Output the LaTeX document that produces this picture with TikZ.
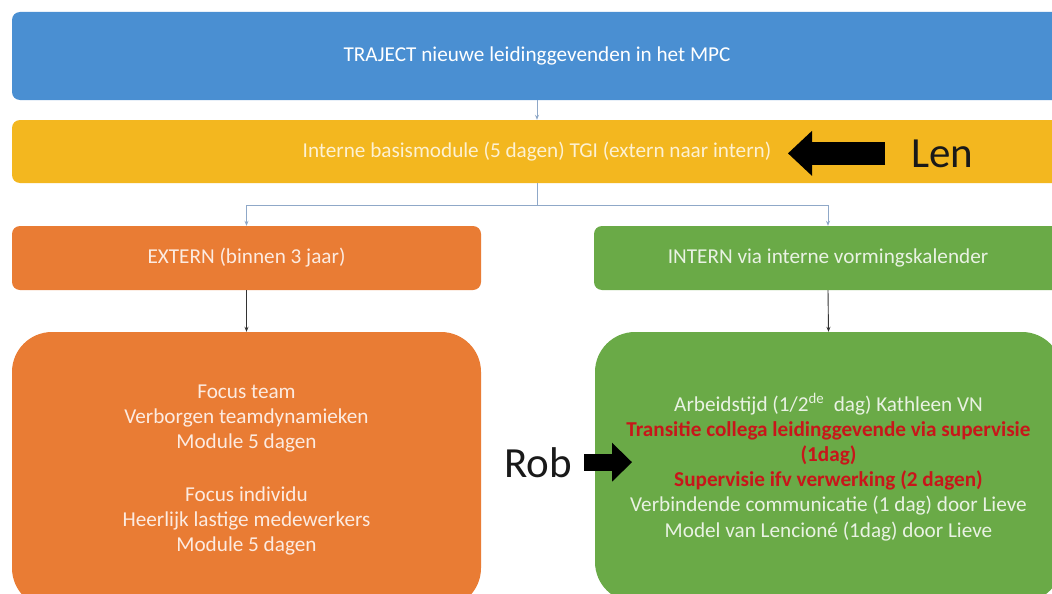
\documentclass[tikz,border=0pt]{standalone}
\usepackage{fontspec}
\setmainfont{Carlito}
\usetikzlibrary{arrows.meta}
\definecolor{traject-blue}{HTML}{4A8FD2}
\definecolor{basis-gold}{HTML}{F3B71F}
\definecolor{extern-orange}{HTML}{E97C34}
\definecolor{intern-green}{HTML}{6AAA47}
\definecolor{link-blue}{HTML}{8FA8C8}
\definecolor{link-dark}{HTML}{333333}
\definecolor{alert-red}{HTML}{C8161A}

\begin{document}
\begin{tikzpicture}[x=1pt, y=-1pt,
      every node/.style={font=\fontsize{21.2}{25.2}\selectfont},
      box/.style={rounded corners=8pt, inner sep=0pt, align=center},
      bigbox/.style={rounded corners=40pt, inner sep=0pt, align=center},
      thinlink/.style={draw=link-blue, line width=0.9pt, -{Stealth[length=5pt,width=4pt]}},
      darklink/.style={draw=link-dark, line width=0.9pt, -{Stealth[length=5pt,width=4pt]}},
      speaker/.style={font=\fontsize{43}{50}\selectfont, text=black!90, inner sep=0pt}]
    \useasboundingbox (0,0) rectangle (1052,594);
    \clip (0,0) rectangle (1052,594);
    \fill[white] (0,0) rectangle (1052,594);

    \node[box, fill=traject-blue, text=white,
          minimum width=1050pt, minimum height=88pt]
          (traject) at (537,56) {TRAJECT nieuwe leidinggevenden in het MPC};
    \node[box, fill=basis-gold, text=white!80!basis-gold,
          minimum width=1050pt, minimum height=63pt]
          (basis) at (537,151.5) {Interne basismodule (5 dagen) TGI (extern naar intern)};
    \node[box, fill=extern-orange, text=white!85!extern-orange,
          minimum width=469pt, minimum height=64pt]
          (extern) at (246.5,258) {EXTERN (binnen 3 jaar)};
    \node[box, fill=intern-green, text=white!85!intern-green,
          minimum width=468pt, minimum height=64pt]
          (intern) at (828,258) {INTERN via interne vormingskalender};
    \node[bigbox, fill=extern-orange, text=white!85!extern-orange,
          minimum width=469pt, minimum height=276pt]
          (externbody) at (246.5,470) {Focus team\\Verborgen teamdynamieken\\Module 5 dagen\\[27pt]
            Focus individu\\Heerlijk lastige medewerkers\\Module 5 dagen};
    \node[bigbox, fill=intern-green, text=white!85!intern-green,
          minimum width=467pt, minimum height=270pt]
          (internbody) at (828.5,467) {Arbeidstijd (1/2\textsuperscript{de}\ \ dag) Kathleen VN\\
            \textcolor{alert-red}{\textbf{Transitie collega leidinggevende via supervisie}}\\
            \textcolor{alert-red}{\textbf{(1dag)}}\\
            \textcolor{alert-red}{\textbf{Supervisie ifv verwerking (2 dagen)}}\\
            Verbindende communicatie (1 dag) door Lieve\\
            Model van Lencioné (1dag) door Lieve};

    \node[speaker, anchor=base west] (len) at (911,167) {Len};
    \node[speaker, anchor=base west] (rob) at (504,477) {Rob};
    \coordinate (lentip) at (len.west -| 788,0);
    \coordinate (robtip) at (rob.east -| 632,0);

    \draw[thinlink] (traject.south) -- (basis.north);
    \draw[thinlink] (basis.south) -- ++(0,22) -| (extern.north);
    \draw[thinlink] (basis.south) -- ++(0,22) -| (intern.north);
    \draw[darklink] (extern.south) -- (externbody.north);
    \draw[darklink] (intern.south) -- (internbody.north);
    \draw[black, line width=23pt, shorten <=26pt,
          -{Triangle[width=45pt, length=24pt, line width=0pt]}] (len.west) -- (lentip);
    \draw[black, line width=17pt, shorten <=12pt,
          -{Triangle[width=39pt, length=20pt, line width=0pt]}] (rob.east) -- (robtip);
  \end{tikzpicture}
\end{document}
